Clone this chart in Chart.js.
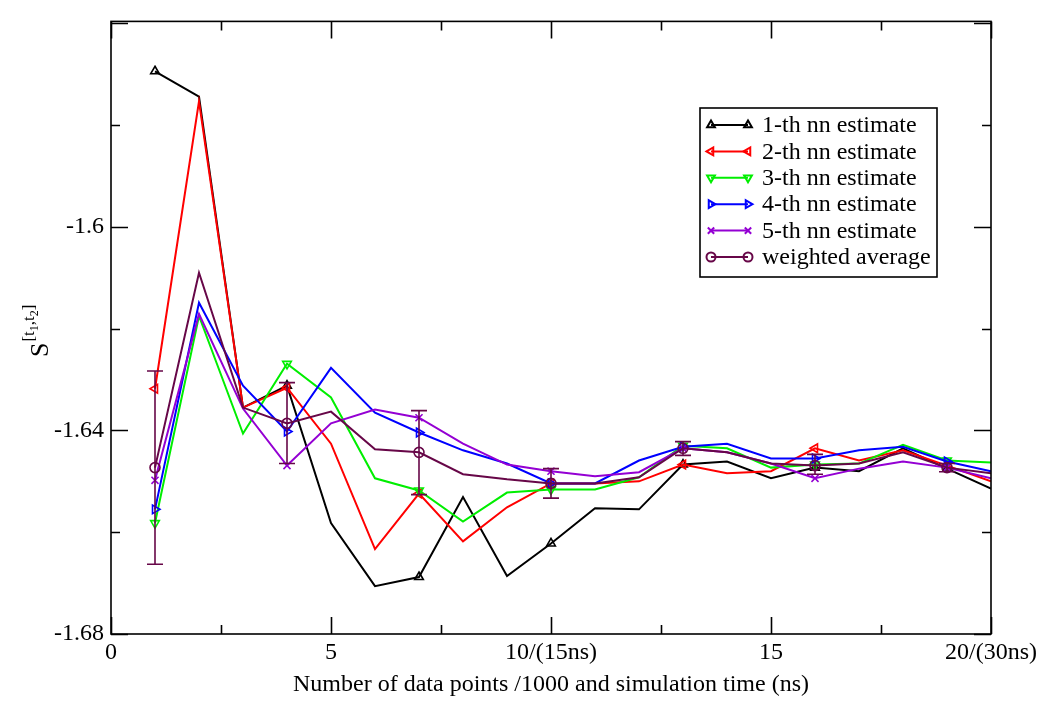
<!DOCTYPE html>
<html>
<head>
<meta charset="utf-8">
<script src="https://cdn.jsdelivr.net/npm/chart.js@4.4.1/dist/chart.umd.min.js"></script>
<style>
  html, body { margin: 0; padding: 0; background: #fff; }
  #wrap { width: 1050px; height: 711px; }
</style>
</head>
<body>
<div id="wrap"><canvas id="myChart" width="1050" height="711"></canvas></div>
<script>
// data
const xValues = [1, 2, 3, 4, 5, 6, 7, 8, 9, 10, 11, 12, 13, 14, 15, 16, 17, 18, 19, 20];
const nn1 = [-1.5694, -1.5744, -1.6355, -1.6312, -1.6582, -1.6706, -1.6688, -1.6531, -1.6686, -1.6622,
  -1.6553, -1.6555, -1.6467, -1.6461, -1.6494, -1.6473, -1.6480, -1.6435, -1.6475, -1.6514];
const nn2 = [-1.6318, -1.5753, -1.6355, -1.6316, -1.6426, -1.6633, -1.6524, -1.6618, -1.6551, -1.6504,
  -1.6504, -1.6500, -1.6467, -1.6484, -1.6480, -1.6435, -1.6459, -1.6439, -1.6469, -1.6500];
const nn3 = [-1.6582, -1.6175, -1.6406, -1.6269, -1.6335, -1.6494, -1.6518, -1.6579, -1.6522, -1.6516,
  -1.6516, -1.6492, -1.6430, -1.6435, -1.6473, -1.6467, -1.6465, -1.6428, -1.6459, -1.6463];
const nn4 = [-1.6555, -1.6149, -1.6312, -1.6402, -1.6277, -1.6365, -1.6404, -1.6439, -1.6465, -1.6504,
  -1.6504, -1.6459, -1.6432, -1.6426, -1.6455, -1.6455, -1.6439, -1.6432, -1.6461, -1.6480];
const nn5 = [-1.6498, -1.6171, -1.6357, -1.6469, -1.6386, -1.6359, -1.6375, -1.6426, -1.6467, -1.6480,
  -1.6490, -1.6482, -1.6435, -1.6443, -1.6465, -1.6494, -1.6475, -1.6461, -1.6473, -1.6494];
const weighted = [-1.6473, -1.6090, -1.6355, -1.6386, -1.6363, -1.6437, -1.6443, -1.6486, -1.6496, -1.6504,
  -1.6504, -1.6492, -1.6435, -1.6443, -1.6465, -1.6469, -1.6465, -1.6443, -1.6473, -1.6484];

// error bars of the weighted average
const errX = [1, 4, 7, 10, 13, 16, 19];
const errLow = [-1.6663, -1.6465, -1.6526, -1.6533, -1.6449, -1.6486, -1.6481];
const errHigh = [-1.6283, -1.6306, -1.6361, -1.6475, -1.6422, -1.6447, -1.6465];

// markers only every third point
const markerX = [1, 4, 7, 10, 13, 16, 19];

const seriesNames = ["1-th nn estimate", "2-th nn estimate", "3-th nn estimate",
  "4-th nn estimate", "5-th nn estimate", "weighted average"];

const xTickValues = [0, 5, 10, 15, 20];
const xTickLabels = ["0", "5", "10/(15ns)", "15", "20/(30ns)"];
const yTickValues = [-1.68, -1.64, -1.6];
const yTickLabels = ["-1.68", "-1.64", "-1.6"];

const FONT = "'Liberation Serif', 'Times New Roman', serif";

const styles = [
  { color: "#000000", point: "triangle", rot: 0 },
  { color: "#ff0000", point: "triangle", rot: -90 },
  { color: "#00ee00", point: "triangle", rot: 180 },
  { color: "#0000ff", point: "triangle", rot: 90 },
  { color: "#9400d3", point: "crossRot", rot: 0 },
  { color: "#670748", point: "circle", rot: 0 },
];

const allSeries = [nn1, nn2, nn3, nn4, nn5, weighted];

const datasets = allSeries.map((vals, i) => ({
  label: seriesNames[i],
  data: xValues.map((x, j) => ({ x: x, y: vals[j] })),
  borderColor: styles[i].color,
  borderWidth: 2,
  pointStyle: styles[i].point,
  rotation: styles[i].rot,
  pointBorderColor: styles[i].color,
  pointBackgroundColor: "rgba(255,255,255,0)",
  pointBorderWidth: 1.6,
  pointRadius: (c) => (markerX.includes(xValues[c.dataIndex]) ? 5 : 0),
  tension: 0,
  fill: false,
  order: 6 - i,
}));

// frame and inward ticks on all four sides
const frameTicks = {
  id: "frameTicks",
  afterDatasetsDraw(chart) {
    const { ctx, chartArea: a, scales } = chart;
    ctx.save();
    ctx.strokeStyle = "#000";
    ctx.lineWidth = 1.6;
    ctx.strokeRect(a.left, a.top, a.right - a.left, a.bottom - a.top);
    ctx.beginPath();
    for (let v = 0; v <= 20.001; v += 2.5) {
      const px = Math.round(scales.x.getPixelForValue(v)) + 0.5;
      const len = Math.abs(v % 5) < 0.01 ? 17 : 9;
      ctx.moveTo(px, a.bottom);
      ctx.lineTo(px, a.bottom - len);
      ctx.moveTo(px, a.top);
      ctx.lineTo(px, a.top + len);
    }
    for (let k = 0; k <= 6; k++) {
      const v = -1.68 + k * 0.02;
      const py = Math.round(scales.y.getPixelForValue(v)) + 0.5;
      const len = k % 2 === 0 ? 17 : 9;
      ctx.moveTo(a.left, py);
      ctx.lineTo(a.left + len, py);
      ctx.moveTo(a.right, py);
      ctx.lineTo(a.right - len, py);
    }
    ctx.stroke();
    ctx.restore();
  },
};

const errorBars = {
  id: "errorBars",
  afterDatasetsDraw(chart) {
    const { ctx, scales } = chart;
    ctx.save();
    ctx.strokeStyle = styles[5].color;
    ctx.lineWidth = 1.6;
    ctx.beginPath();
    errX.forEach((x, i) => {
      const px = scales.x.getPixelForValue(x);
      const y1 = scales.y.getPixelForValue(errLow[i]);
      const y2 = scales.y.getPixelForValue(errHigh[i]);
      ctx.moveTo(px, y1);
      ctx.lineTo(px, y2);
      ctx.moveTo(px - 8, y1);
      ctx.lineTo(px + 8, y1);
      ctx.moveTo(px - 8, y2);
      ctx.lineTo(px + 8, y2);
    });
    ctx.stroke();
    ctx.restore();
  },
};

function drawMarker(ctx, style, x, y) {
  Chart.helpers.drawPoint(ctx, {
    pointStyle: style.point,
    rotation: style.rot,
    radius: 4.5,
    borderWidth: 1.6,
  }, x, y);
}

const graceLegend = {
  id: "graceLegend",
  afterDraw(chart) {
    const ctx = chart.ctx;
    const bx = 700, by = 108, bw = 237, bh = 169;
    ctx.save();
    ctx.fillStyle = "#fff";
    ctx.fillRect(bx, by, bw, bh);
    ctx.strokeStyle = "#000";
    ctx.lineWidth = 1.6;
    ctx.strokeRect(bx, by, bw, bh);
    ctx.font = "24px " + FONT;
    ctx.textBaseline = "middle";
    seriesNames.forEach((name, i) => {
      const y = 125 + i * 26.4;
      ctx.strokeStyle = styles[i].color;
      ctx.fillStyle = "rgba(255,255,255,0)";
      ctx.lineWidth = 2;
      ctx.beginPath();
      ctx.moveTo(711, y);
      ctx.lineTo(748, y);
      ctx.stroke();
      drawMarker(ctx, styles[i], 711, y);
      drawMarker(ctx, styles[i], 748, y);
      ctx.fillStyle = "#000";
      ctx.fillText(name, 762, y + 1);
    });
    ctx.restore();
  },
};

// y axis title S^[t1,t2], rotated
const yTitle = {
  id: "yTitle",
  afterDraw(chart) {
    const ctx = chart.ctx;
    ctx.save();
    ctx.translate(48, 357);
    ctx.rotate(-Math.PI / 2);
    ctx.fillStyle = "#000";
    ctx.textBaseline = "alphabetic";
    ctx.font = "26px " + FONT;
    ctx.fillText("S", 0, 0);
    let u = ctx.measureText("S").width + 1;
    const parts = [["[t", 17, -14], ["1", 12, -10], [",t", 17, -14], ["2", 12, -10], ["]", 17, -14]];
    parts.forEach(([txt, size, dy]) => {
      ctx.font = size + "px " + FONT;
      ctx.fillText(txt, u, dy);
      u += ctx.measureText(txt).width;
    });
    ctx.restore();
  },
};

new Chart(document.getElementById("myChart"), {
  type: "line",
  data: { datasets: datasets },
  options: {
    responsive: false,
    animation: false,
    layout: { padding: { top: 20, right: 59, left: 0, bottom: 0 } },
    plugins: {
      legend: { display: false },
      tooltip: { enabled: false },
    },
    scales: {
      x: {
        type: "linear",
        min: 0,
        max: 20,
        grid: { display: false, drawTicks: false },
        border: { display: false },
        afterFit(scale) { scale.height = 77; },
        afterBuildTicks(scale) {
          scale.ticks = xTickValues.map((v) => ({ value: v }));
        },
        ticks: {
          color: "#000",
          font: { family: FONT, size: 24 },
          padding: 4,
          maxRotation: 0,
          autoSkip: false,
          callback: (v) => {
            const i = xTickValues.findIndex((t) => Math.abs(t - v) < 1e-6);
            return i >= 0 ? xTickLabels[i] : "";
          },
        },
        title: {
          display: true,
          text: "Number of data points /1000 and simulation time (ns)",
          color: "#000",
          font: { family: FONT, size: 24 },
          padding: { top: 0, bottom: 12 },
        },
      },
      y: {
        min: -1.68,
        max: -1.5596,
        grid: { display: false, drawTicks: false },
        border: { display: false },
        afterFit(scale) { scale.width = 111; },
        afterBuildTicks(scale) {
          scale.ticks = yTickValues.map((v) => ({ value: v }));
        },
        ticks: {
          color: "#000",
          font: { family: FONT, size: 24 },
          padding: 7,
          autoSkip: false,
          callback: (v) => {
            const i = yTickValues.findIndex((t) => Math.abs(t - v) < 1e-6);
            return i >= 0 ? yTickLabels[i] : "";
          },
        },
      },
    },
  },
  plugins: [frameTicks, errorBars, graceLegend, yTitle],
});
</script>
</body>
</html>
